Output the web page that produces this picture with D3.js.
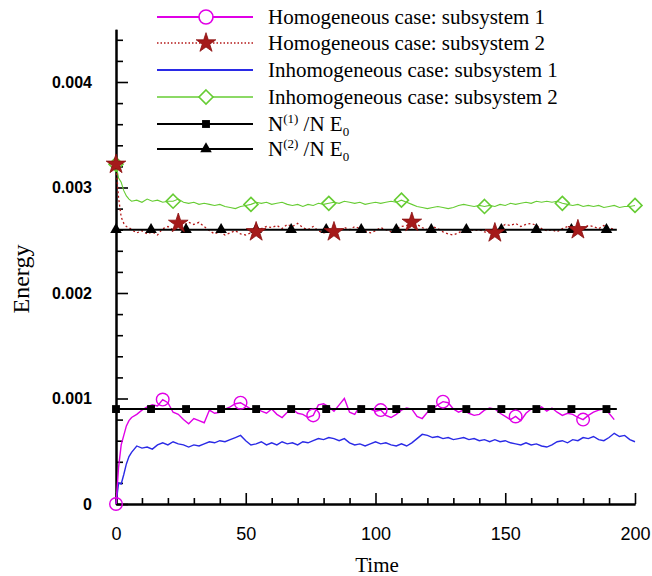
<!DOCTYPE html>
<html><head><meta charset="utf-8">
<script src="https://cdn.jsdelivr.net/npm/d3@7"></script>
<style>body{margin:0;background:#fff}svg{display:block}</style>
</head><body>
<svg id="c" width="652" height="576"></svg>
<script>
// ---- data ----
const times = [0,1,2,3,4,5,6,8,10,12,14,16,18,20,22,24,26,28,30,32,34,36,38,40,42,44,46,48,50,52,54,56,58,60,62,64,66,68,70,72,74,76,78,80,82,84,86,88,90,92,94,96,98,100,102,104,106,108,110,112,114,116,118,120,122,124,126,128,130,132,134,136,138,140,142,144,146,148,150,152,154,156,158,160,162,164,166,168,170,172,174,176,178,180,182,184,186,188,190,192,194,196,198,200];
const VALUE_UNIT = 1e-4; // series below are given in units of 1e-4
const homog1 = [0,3.5,5.6,6.5,7.4,7.9,8.2,8.5,8.9,9.2,
 9.4,9.3,9.9,9.6,8.7,8.5,8.0,7.6,8.1,7.9,
 7.7,8.9,8.6,8.7,9.0,9.2,9.5,9.6,9.3,9.0,
 9.1,8.8,8.6,9.0,8.5,8.2,8.7,9.0,8.6,8.5,
 8.2,8.4,9.4,9.5,9.2,8.8,9.4,10.0,8.7,8.5,
 9.3,9.0,9.0,8.8,8.9,8.4,8.2,8.5,8.9,9.1,
 9.0,8.3,8.1,8.7,9.0,9.4,9.7,9.6,9.0,8.7,
 8.9,8.6,8.4,8.5,8.9,9.1,9.0,8.6,8.3,8.0,
 8.3,7.9,8.6,9.0,8.9,9.2,8.8,9.1,8.7,8.4,
 8.6,8.5,8.2,8.0,8.4,8.7,8.9,9.0,8.6,8.0];
const homog2 = [32.2,29.0,27.2,26.6,26.3,26.2,26.0,25.7,25.9,25.6,
 25.8,25.5,26.1,26.3,26.0,26.6,26.4,26.7,26.5,26.7,
 26.3,25.9,25.6,25.8,25.5,25.7,25.9,25.6,25.5,25.7,
 25.8,26.1,26.3,26.2,26.4,26.1,26.5,26.3,26.6,26.2,
 26.0,26.3,25.9,25.7,25.8,25.8,25.9,26.2,26.0,26.3,
 26.1,25.9,25.7,25.9,26.2,26.0,25.8,26.1,26.3,26.4,
 26.7,26.5,26.2,26.0,26.3,26.1,25.8,25.6,25.5,25.7,
 26.0,26.1,25.9,26.0,25.8,25.7,25.7,26.2,26.5,26.4,
 26.6,26.3,26.5,26.6,26.4,26.1,25.9,26.0,25.8,26.1,
 26.3,26.0,26.0,26.2,26.4,26.3,26.1,26.4,26.2,26.0];
const inhomog1 = [0,2.0,1.9,2.8,3.8,4.5,4.9,5.5,5.3,5.4,
 5.2,5.6,5.8,5.6,5.9,5.7,5.6,5.4,5.6,5.5,
 5.7,5.9,5.8,6.0,5.9,6.1,6.3,6.5,6.0,5.6,
 5.7,5.9,5.6,5.8,5.6,5.9,5.7,5.8,5.6,5.9,
 5.8,6.0,6.2,6.1,6.3,6.2,6.0,6.2,5.8,5.6,
 5.7,5.5,5.7,5.9,5.7,5.8,5.6,5.5,5.7,5.5,
 5.8,6.2,6.6,6.5,6.3,6.4,6.2,6.3,6.1,6.2,
 6.3,6.1,6.2,6.0,6.1,5.9,6.1,5.9,6.0,5.8,
 5.7,5.6,5.8,5.6,5.7,5.5,5.4,5.6,5.9,6.0,
 5.8,6.1,6.0,6.3,6.2,6.4,6.1,6.0,6.3,6.7,
 6.4,6.5,6.1,5.9];
const inhomog2 = [32.2,30.9,30.5,29.7,29.2,28.9,28.7,28.8,28.6,28.9,
 28.7,28.8,28.6,28.7,28.7,28.9,28.6,28.5,28.6,28.4,
 28.5,28.4,28.3,28.4,28.2,28.1,28.0,28.2,28.3,28.4,
 28.6,28.5,28.6,28.4,28.5,28.6,28.4,28.3,28.4,28.2,
 28.4,28.3,28.5,28.4,28.5,28.6,28.5,28.7,28.6,28.5,
 28.6,28.4,28.5,28.6,28.5,28.6,28.7,28.6,28.8,28.6,
 28.4,28.2,28.1,28.0,28.1,28.2,28.1,28.0,28.1,28.3,
 28.4,28.3,28.2,28.3,28.2,28.3,28.2,28.4,28.3,28.5,
 28.4,28.5,28.6,28.5,28.7,28.6,28.7,28.6,28.7,28.5,
 28.4,28.3,28.4,28.2,28.3,28.2,28.3,28.1,28.2,28.3,
 28.1,28.2,28.2,28.3];
const refLevel1 = 0.0009;   // N(1)/N E0
const refLevel2 = 0.0026;   // N(2)/N E0
const refTimes = [0, 193];
const refMarkerTimes = [0,13.5,27,40.5,54,67.5,81,94.5,108,121.5,135,148.5,162,175.5,189];
const homog1MarkerTimes = [0,18,48,76,102,126,154,180];
const homog2MarkerTimes = [0,24,54,84,114,146,178];
const inhomog2MarkerTimes = [0,22,52,82,110,142,172,200];
const xTickValues = [0,50,100,150,200];
const yTickValues = [0,0.001,0.002,0.003,0.004];
const legendLabels = ["Homogeneous case: subsystem 1","Homogeneous case: subsystem 2",
  "Inhomogeneous case: subsystem 1","Inhomogeneous case: subsystem 2"];

// ---- chart ----
const svg = d3.select('#c');
const x = d3.scaleLinear().domain([0,200]).range([116,635]);
const y = d3.scaleLinear().domain([0,0.0045]).range([504,29.25]);

const MAG='#e000e6', RED='#b41818', BLUE='#2a2ae6', GREEN='#66cc33';

const pts = arr => arr.map((v,i)=>({t:times[i], v:v*VALUE_UNIT}));
const valAt = (arr,t) => arr[times.indexOf(t)]*VALUE_UNIT;
const line = d3.line().x(d=>x(d.t)).y(d=>y(d.v));

// axes
const minorY = d3.range(0.0002,0.0045,0.0002).filter(v=>Math.abs(v*1000-Math.round(v*1000))>1e-6);
const minorX = d3.range(10,200,10).filter(v=>v%50!==0);
const ax = svg.append('g');
ax.append('g').attr('transform','translate(116,0)')
  .call(d3.axisLeft(y).tickValues(minorY).tickSize(-7).tickSizeOuter(0).tickFormat(''));
ax.append('g').attr('transform','translate(116,0)')
  .call(d3.axisLeft(y).tickValues(yTickValues).tickSize(-12).tickSizeOuter(0).tickPadding(24)
    .tickFormat(d=>d===0?'0':d3.format('.3f')(d)))
  .selectAll('text').attr('font-family','Liberation Sans, Arial, sans-serif')
    .attr('font-size',16).attr('font-weight','bold').attr('fill','#000');
ax.append('g').attr('transform','translate(0,504)')
  .call(d3.axisBottom(x).tickValues(minorX).tickSize(-6).tickSizeOuter(0).tickFormat(''));
ax.append('g').attr('transform','translate(0,504)')
  .call(d3.axisBottom(x).tickValues(xTickValues).tickSize(-11).tickSizeOuter(0).tickPadding(23))
  .selectAll('text').attr('font-family','Liberation Sans, Arial, sans-serif')
    .attr('font-size',18).attr('fill','#000');
ax.selectAll('.domain').attr('stroke','#000').attr('stroke-width',2);
ax.selectAll('.tick line').attr('stroke','#000').attr('stroke-width',1.6);

svg.append('text').attr('x',377).attr('y',572).attr('text-anchor','middle')
  .attr('font-family','Liberation Serif, Times New Roman, serif').attr('font-size',21).text('Time');
svg.append('text').attr('transform','translate(29,279) rotate(-90)').attr('text-anchor','middle')
  .attr('font-family','Liberation Serif, Times New Roman, serif').attr('font-size',24).text('Energy');

// series lines
const g = svg.append('g');
g.append('path').datum(pts(inhomog2)).attr('d',line).attr('fill','none').attr('stroke',GREEN).attr('stroke-width',1.1);
g.append('path').datum(pts(homog2)).attr('d',line).attr('fill','none').attr('stroke',RED).attr('stroke-width',1.3).attr('stroke-dasharray','2,2.5');
g.append('path').datum(pts(inhomog1)).attr('d',line).attr('fill','none').attr('stroke',BLUE).attr('stroke-width',1.4);
g.append('path').datum(pts(homog1)).attr('d',line).attr('fill','none').attr('stroke',MAG).attr('stroke-width',1.4);
[refLevel1, refLevel2].forEach(lv=>{
  g.append('path').datum(refTimes.map(t=>({t, v:lv}))).attr('d',line)
    .attr('fill','none').attr('stroke','#000').attr('stroke-width',2);
});

// markers
const sq = d3.symbol().type(d3.symbolSquare).size(62)();
const tri = d3.symbol().type(d3.symbolTriangle).size(58)();
const star = d3.symbol().type(d3.symbolStar).size(120)();
const diamond = 'M0,-7L7,0L0,7L-7,0Z';
function marks(data, path, attrs){
  const s = g.append('g').selectAll('path').data(data).join('path')
    .attr('transform',d=>`translate(${x(d.t)},${y(d.v)})`).attr('d',path);
  Object.entries(attrs).forEach(([k,v])=>s.attr(k,v));
}
marks(refMarkerTimes.map(t=>({t,v:refLevel1})), sq, {fill:'#000'});
marks(refMarkerTimes.map(t=>({t,v:refLevel2})), tri, {fill:'#000'});
marks(inhomog2MarkerTimes.map(t=>({t,v:valAt(inhomog2,t)})), diamond, {fill:'none',stroke:GREEN,'stroke-width':1.6});
marks(homog2MarkerTimes.map(t=>({t,v:valAt(homog2,t)})), star, {fill:'#a51a1a',stroke:'#8a1010','stroke-width':0.8});
g.append('g').selectAll('circle').data(homog1MarkerTimes.map(t=>({t,v:valAt(homog1,t)}))).join('circle')
  .attr('cx',d=>x(d.t)).attr('cy',d=>y(d.v)).attr('r',6.3).attr('fill','none').attr('stroke',MAG).attr('stroke-width',1.4);

// legend
const lg = svg.append('g');
const rows = [17,43,70,97,124,149];
const serif = 'Liberation Serif, Times New Roman, serif';
const sw = [{c:MAG,w:2},{c:RED,w:1.3,dash:'1.5,2'},{c:BLUE,w:2},{c:GREEN,w:1.6},{c:'#000',w:2},{c:'#000',w:2}];
rows.forEach((ry,i)=>{
  const l = lg.append('line').attr('x1',157).attr('x2',253).attr('y1',ry).attr('y2',ry)
    .attr('stroke',sw[i].c).attr('stroke-width',sw[i].w);
  if(sw[i].dash) l.attr('stroke-dasharray',sw[i].dash);
});
lg.append('circle').attr('cx',206).attr('cy',rows[0]).attr('r',7).attr('fill','#fff').attr('stroke',MAG).attr('stroke-width',1.6);
lg.append('path').attr('transform',`translate(206,${rows[1]})`).attr('d',star).attr('fill','#a51a1a').attr('stroke','#8a1010').attr('stroke-width',0.8);
lg.append('path').attr('transform',`translate(206,${rows[3]})`).attr('d',diamond).attr('fill','#fff').attr('stroke',GREEN).attr('stroke-width',1.6);
lg.append('path').attr('transform',`translate(206,${rows[4]})`).attr('d',sq).attr('fill','#000');
lg.append('path').attr('transform',`translate(206,${rows[5]})`).attr('d',tri).attr('fill','#000');
legendLabels.forEach((t,i)=>{
  lg.append('text').attr('x',268).attr('y',rows[i]+7).attr('font-family',serif).attr('font-size',21).text(t);
});
['1','2'].forEach((k,j)=>{
  const t = lg.append('text').attr('x',268).attr('y',rows[4+j]+7).attr('font-family',serif).attr('font-size',21);
  t.append('tspan').text('N');
  t.append('tspan').attr('font-size',13).attr('dy',-8).text('('+k+')');
  t.append('tspan').attr('dy',8).text(' /N E');
  t.append('tspan').attr('font-size',13).attr('dy',5).text('0');
});
</script>
</body></html>
